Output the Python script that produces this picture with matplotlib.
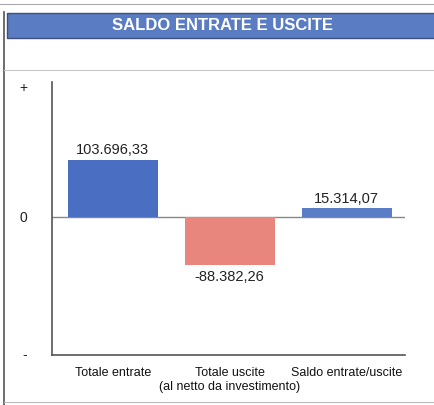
import matplotlib

matplotlib.use("Agg")
import matplotlib.pyplot as plt
from matplotlib.lines import Line2D
from matplotlib.patches import Rectangle

# dati
categorie = ["Totale entrate", "Totale uscite\n(al netto da investimento)", "Saldo entrate/uscite"]
valori = [103696.33, -88382.26, 15314.07]
colori = ["#4a6fc2", "#e8867d", "#5a7ec6"]
titolo = "SALDO ENTRATE E USCITE"
tick_y = [236000, 0, -248000]
tick_y_lab = ["+", "0", "-"]

FONT = ["Liberation Sans Narrow", "Liberation Sans", "DejaVu Sans"]
plt.rcParams["font.family"] = FONT

W, H = 435, 405


def fx(px):
    return px / W


def fy(py):
    return 1 - py / H


def it_fmt(v):
    """Formato italiano: 103.696,33"""
    return f"{v:,.2f}".replace(",", "X").replace(".", ",").replace("X", ".")


fig = plt.figure(figsize=(W / 100, H / 100), dpi=100)

# cornice del riquadro (scansione)
fig.add_artist(Line2D([fx(4), fx(4)], [fy(12), fy(405)], color="#555555", lw=1.2))
fig.add_artist(Line2D([fx(4), fx(435)], [fy(402), fy(402)], color="#bbbbbb", lw=0.8))
fig.add_artist(Line2D([fx(0), fx(435)], [fy(4), fy(4)], color="#aaaaaa", lw=0.8))
fig.add_artist(Line2D([fx(4), fx(435)], [fy(70), fy(70)], color="#c8c8c8", lw=0.8))

# banda del titolo
fig.add_artist(Rectangle((fx(7), fy(38)), fx(435 - 7), (38 - 13) / H,
                         facecolor="#5a7cc2", edgecolor="#3d4f7a", lw=1.0))
fig.text(fx(223), fy(25.5), titolo, color="white", fontsize=12, fontweight="bold",
         ha="center", va="center")

ax = fig.add_axes([fx(52), fy(355), fx(405 - 52), (355 - 82) / H])
x = range(len(valori))
bars = ax.bar(x, valori, width=0.77, color=colori, zorder=2)
ax.axhline(0, color="#888888", lw=1.0, zorder=1)

for b, v in zip(bars, valori):
    cx = b.get_x() + b.get_width() / 2
    if v >= 0:
        ax.annotate(it_fmt(v), (cx, v), xytext=(0, 2), textcoords="offset points",
                    ha="center", va="bottom", fontsize=10.5, color="#222222")
    else:
        ax.annotate(it_fmt(v), (cx, v), xytext=(0, -3), textcoords="offset points",
                    ha="center", va="top", fontsize=10.5, color="#222222")

ax.set_xlim(-0.52, 2.5)
ax.set_ylim(-251000, 245000)
ax.set_xticks(list(x))
ax.set_xticklabels(categorie, fontsize=9, color="#111111")
ax.set_yticks(tick_y)
ax.set_yticklabels(tick_y_lab, fontsize=10, color="#222222")
ax.tick_params(axis="x", length=0, pad=9)
ax.tick_params(axis="y", length=0, pad=18)

for s in ["top", "right"]:
    ax.spines[s].set_visible(False)
for s in ["left", "bottom"]:
    ax.spines[s].set_color("#555555")
    ax.spines[s].set_linewidth(1.2)

fig.savefig("out.png", dpi=100)
